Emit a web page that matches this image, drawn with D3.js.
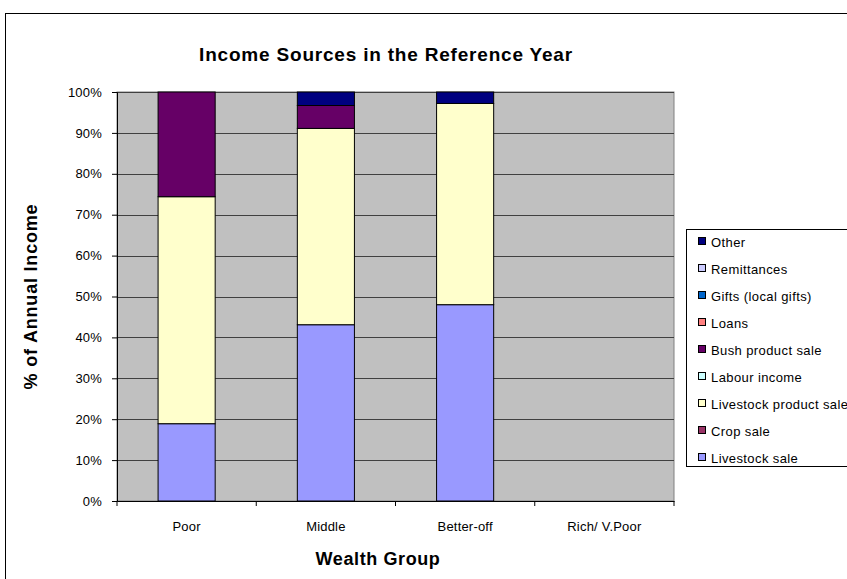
<!DOCTYPE html>
<html>
<head>
    <meta charset="utf-8">
    <title>Income Sources in the Reference Year</title>
    <script src="https://d3js.org/d3.v7.min.js"></script>
    <style>
        body { margin: 0; background: #fff; }
        text { font-family: "Liberation Sans", Arial, sans-serif; fill: #000; }
        .tick text { font-size: 13px; letter-spacing: 0.2px; }
        .legend text { font-size: 13px; letter-spacing: 0.4px; }
    </style>
</head>
<body>
    <div id="chart"></div>
    <script>
        // 数据
        const groups = ["Poor", "Middle", "Better-off", "Rich/ V.Poor"];
        const sources = ["Livestock sale", "Crop sale", "Livestock product sale", "Labour income",
            "Bush product sale", "Loans", "Gifts (local gifts)", "Remittances", "Other"];
        const livestockSale = [18.9, 43.1, 48.0, 0];
        const cropSale = [0, 0, 0, 0];
        const livestockProductSale = [55.5, 48.0, 49.2, 0];
        const labourIncome = [0, 0, 0, 0];
        const bushProductSale = [25.6, 5.6, 0, 0];
        const loans = [0, 0, 0, 0];
        const gifts = [0, 0, 0, 0];
        const remittances = [0, 0, 0, 0];
        const other = [0, 3.3, 2.8, 0];
        const seriesValues = [livestockSale, cropSale, livestockProductSale, labourIncome,
            bushProductSale, loans, gifts, remittances, other];
        const colors = ["#9999FF", "#993366", "#FFFFCC", "#CCFFFF", "#660066",
            "#FF8080", "#0066CC", "#CCCCFF", "#000080"];
        const yTicks = [0, 10, 20, 30, 40, 50, 60, 70, 80, 90, 100];

        const width = 847, height = 579;
        const plot = { left: 117, top: 92, right: 674, bottom: 501 };

        const svg = d3.select("#chart").append("svg")
            .attr("width", width).attr("height", height);

        // 外框
        svg.append("rect")
            .attr("x", 5.5).attr("y", 13.5)
            .attr("width", 900).attr("height", 600)
            .attr("fill", "#fff").attr("stroke", "#000");

        const table = groups.map((g, i) => {
            const row = { group: g };
            sources.forEach((s, k) => row[s] = seriesValues[k][i]);
            return row;
        });
        const stacked = d3.stack().keys(sources)(table);

        const x = d3.scaleBand().domain(groups)
            .range([plot.left, plot.right]).paddingInner(0.59).paddingOuter(0.295);
        const xPos = d3.scaleBand().domain(groups).range([plot.left, plot.right]);
        const y = d3.scaleLinear().domain([0, 100]).range([plot.bottom, plot.top]);
        const color = d3.scaleOrdinal().domain(sources).range(colors);

        // 绘图区
        svg.append("rect")
            .attr("x", plot.left).attr("y", plot.top)
            .attr("width", plot.right - plot.left).attr("height", plot.bottom - plot.top)
            .attr("fill", "#C0C0C0").attr("stroke", "#808080");

        // 网格线
        svg.append("g").selectAll("line")
            .data(yTicks.filter(d => d > 0))
            .enter().append("line")
            .attr("x1", plot.left).attr("x2", plot.right)
            .attr("y1", d => Math.round(y(d)) + 0.5).attr("y2", d => Math.round(y(d)) + 0.5)
            .attr("stroke", "#404040");

        // 柱子
        svg.append("g").selectAll("g")
            .data(stacked)
            .enter().append("g")
            .attr("fill", d => color(d.key))
            .selectAll("rect")
            .data(d => d.filter(p => p[1] - p[0] > 0))
            .enter().append("rect")
            .attr("x", d => x(d.data.group))
            .attr("width", x.bandwidth())
            .attr("y", d => y(d[1]))
            .attr("height", d => y(d[0]) - y(d[1]))
            .attr("stroke", "#000").attr("stroke-width", 1);

        // Y 轴
        const yAxis = svg.append("g")
            .attr("transform", `translate(${plot.left},0)`)
            .call(d3.axisLeft(y).tickValues(yTicks).tickFormat(d => d + "%").tickSize(5).tickPadding(10));
        yAxis.select(".domain").attr("stroke", "#000");

        // X 轴
        const xAxis = svg.append("g")
            .attr("transform", `translate(0,${plot.bottom})`)
            .call(d3.axisBottom(xPos).tickSize(0).tickPadding(21));
        xAxis.select(".domain").attr("stroke", "#000");
        xAxis.selectAll(".tick text").attr("dy", "0.71em");
        xAxis.append("g").selectAll("line")
            .data(groups.map(g => xPos(g)).concat([plot.right]))
            .enter().append("line")
            .attr("x1", d => d).attr("x2", d => d)
            .attr("y1", 0).attr("y2", 5).attr("stroke", "#000");

        // 标题
        svg.append("text")
            .attr("x", 386).attr("y", 61)
            .attr("text-anchor", "middle")
            .style("font-size", "19px").style("font-weight", "bold")
            .style("letter-spacing", "0.8px")
            .text("Income Sources in the Reference Year");

        svg.append("text")
            .attr("x", 378).attr("y", 565)
            .attr("text-anchor", "middle")
            .style("font-size", "18px").style("font-weight", "bold")
            .style("letter-spacing", "0.6px")
            .text("Wealth Group");

        svg.append("text")
            .attr("transform", `translate(37,${(plot.top + plot.bottom) / 2}) rotate(-90)`)
            .attr("text-anchor", "middle")
            .style("font-size", "18px").style("font-weight", "bold")
            .style("letter-spacing", "0.8px")
            .text("% of Annual Income");

        // 图例
        const legend = svg.append("g").attr("class", "legend");
        legend.append("rect")
            .attr("x", 686.5).attr("y", 229.5)
            .attr("width", 200).attr("height", 237)
            .attr("fill", "#fff").attr("stroke", "#000");

        sources.slice().reverse().forEach((s, i) => {
            const row = legend.append("g")
                .attr("transform", `translate(698,${242 + i * 27})`);
            row.append("rect")
                .attr("x", 0.5).attr("y", -4.5)
                .attr("width", 7).attr("height", 7)
                .attr("fill", color(s)).attr("stroke", "#000");
            row.append("text")
                .attr("x", 13).attr("y", 5)
                .text(s);
        });
    </script>
</body>
</html>
